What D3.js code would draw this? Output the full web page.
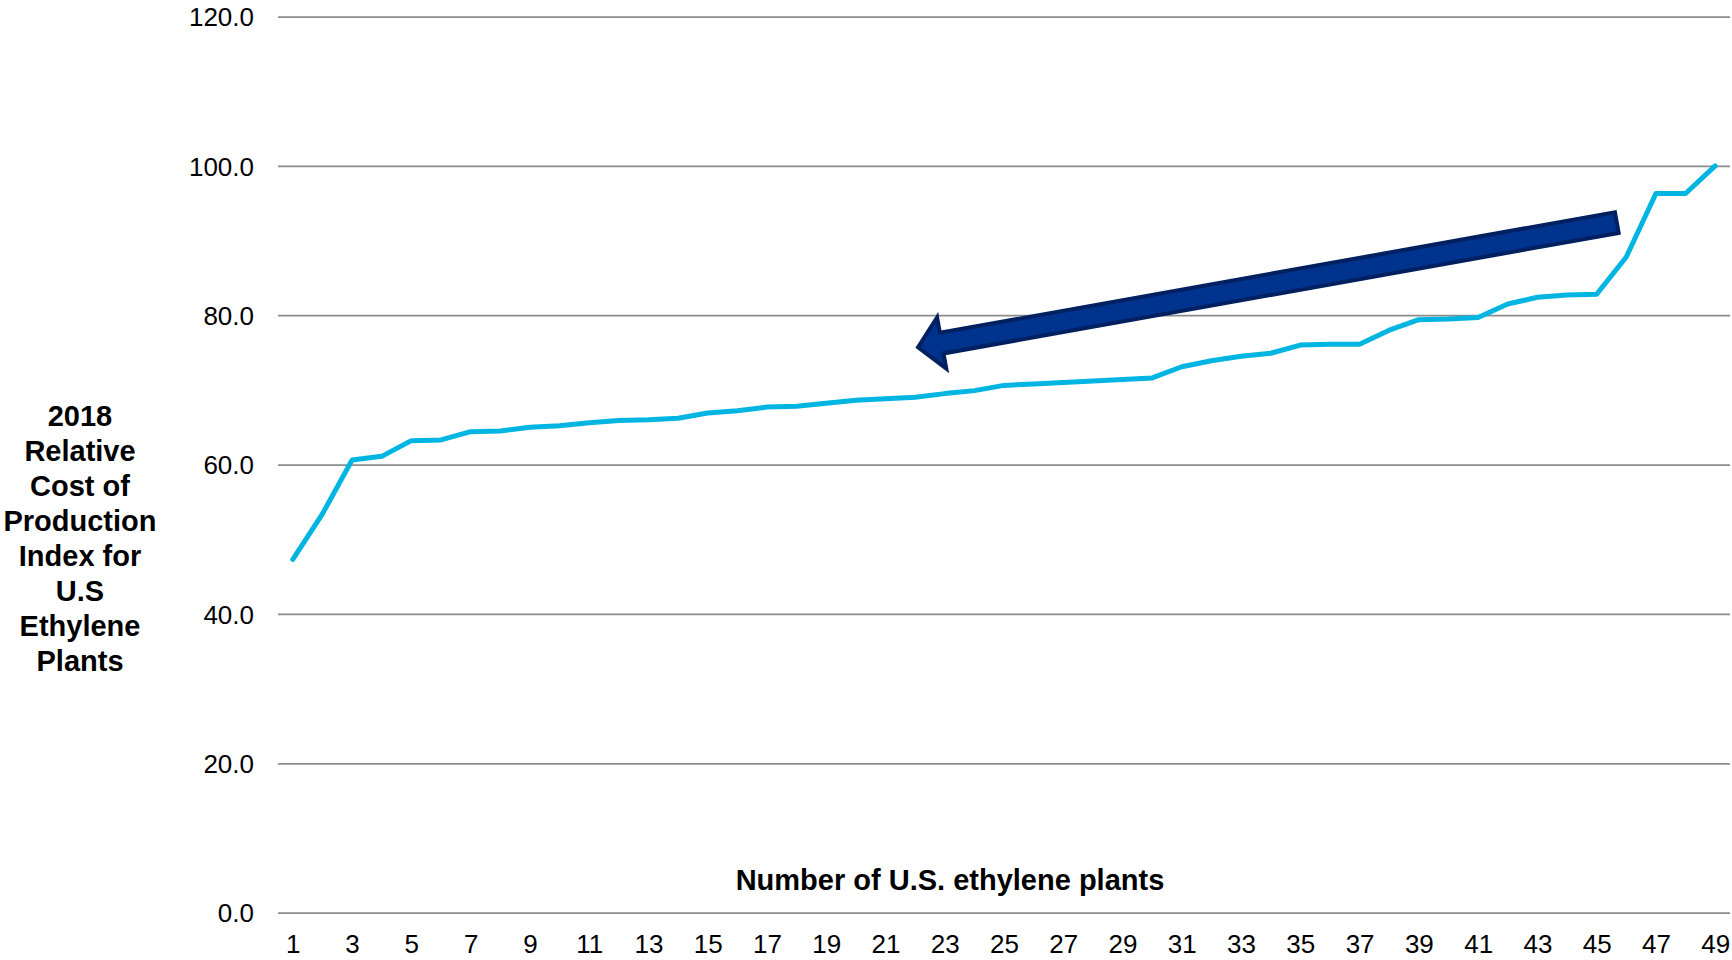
<!DOCTYPE html>
<html>
<head>
<meta charset="utf-8">
<script src="https://cdn.jsdelivr.net/npm/d3@7"></script>
<style>
  html, body { margin: 0; background: #fff; }
  svg { display: block; }
</style>
</head>
<body>
<div id="chart"></div>
<script>
// Data

const plants = [
  1, 2, 3, 4, 5, 6, 7, 8, 9, 10, 11, 12, 13, 14, 15, 16, 17, 18, 19, 20, 21, 22, 23, 24, 25,
  26, 27, 28, 29, 30, 31, 32, 33, 34, 35, 36, 37, 38, 39, 40, 41, 42, 43, 44, 45, 46, 47, 48, 49,
]
const costIndex = [
  47.3, 53.4, 60.6, 61.1, 63.2, 63.3, 64.4, 64.5, 65.0, 65.2, 65.6, 65.9, 66.0, 66.2, 66.9, 67.2,
  67.7, 67.8, 68.2, 68.6, 68.8, 69.0, 69.5, 69.9, 70.6, 70.8, 71.0, 71.2, 71.4, 71.6, 73.1, 73.9,
  74.5, 74.9, 76.0, 76.1, 76.1, 78.0, 79.4, 79.5, 79.7, 81.5, 82.4, 82.7, 82.8, 87.8, 96.3, 96.3, 100.0,
]
const xTickLabels = [1, 3, 5, 7, 9, 11, 13, 15, 17, 19, 21, 23, 25, 27, 29, 31, 33, 35, 37, 39, 41, 43, 45, 47, 49]
const yTickLabels = [0, 20, 40, 60, 80, 100, 120]
const xTitle = 'Number of U.S. ethylene plants'
const yTitleLines = ['2018', 'Relative', 'Cost of', 'Production', 'Index for', 'U.S', 'Ethylene', 'Plants']

// annotation arrow, in data units: [plant, index]
const arrowFrom = [45.68, 92.4]
const arrowTo = [22.1, 75.7]

// Layout

const W = 1732
const H = 960
const FONT = "'Liberation Sans', Arial, sans-serif"
const COLORS = {
  line: '#00b5e2',
  grid: '#8c8c8c',
  arrowFill: '#00338d',
  arrowStroke: '#002060',
  text: '#000',
}

const x = d3.scaleLinear().domain([0.5, 49.5]).range([278, 1730])
const y = d3.scaleLinear().domain([0, 120]).range([912.6, 16.5])

const svg = d3
  .select('#chart')
  .append('svg')
  .attr('width', W)
  .attr('height', H)
  .style('font-family', FONT)

// Y axis & grid

svg
  .append('g')
  .attr('transform', `translate(${x.range()[0]},0)`)
  .call(
    d3
      .axisLeft(y)
      .tickValues(yTickLabels)
      .tickFormat(d3.format('.1f'))
      .tickSize(-(x.range()[1] - x.range()[0]))
      .tickPadding(24),
  )
  .call(g => g.select('.domain').remove())
  .call(g => g.selectAll('line').attr('stroke', COLORS.grid).attr('stroke-width', 1.75))
  .call(g =>
    g
      .selectAll('text')
      .attr('font-family', FONT)
      .attr('font-size', 26)
      .attr('fill', COLORS.text)
      .attr('dy', '0.36em'),
  )

// X axis

svg
  .append('g')
  .attr('transform', `translate(0,${y(0)})`)
  .call(d3.axisBottom(x).tickValues(xTickLabels).tickSize(0).tickPadding(22))
  .call(g => g.select('.domain').remove())
  .call(g =>
    g.selectAll('text').attr('font-family', FONT).attr('font-size', 26).attr('fill', COLORS.text),
  )

// Titles

svg
  .append('text')
  .attr('x', 950)
  .attr('y', 890)
  .attr('text-anchor', 'middle')
  .attr('font-size', 29)
  .attr('font-weight', 'bold')
  .attr('fill', COLORS.text)
  .text(xTitle)

svg
  .append('text')
  .attr('text-anchor', 'middle')
  .attr('font-size', 29)
  .attr('font-weight', 'bold')
  .attr('fill', COLORS.text)
  .selectAll('tspan')
  .data(yTitleLines)
  .join('tspan')
  .attr('x', 80)
  .attr('y', (d, i) => 425.8 + i * 35.05)
  .text(d => d)

// Line

svg
  .append('path')
  .datum(costIndex)
  .attr('fill', 'none')
  .attr('stroke', COLORS.line)
  .attr('stroke-width', 5)
  .attr('stroke-linejoin', 'round')
  .attr('stroke-linecap', 'round')
  .attr(
    'd',
    d3
      .line()
      .x((d, i) => x(plants[i]))
      .y(d => y(d)),
  )

// Arrow

function arrowPath([x0, y0], [x1, y1], { tailHalf, neckHalf, headHalf, headLen }) {
  const len = Math.hypot(x1 - x0, y1 - y0)
  const ux = (x1 - x0) / len
  const uy = (y1 - y0) / len
  const bx = x1 - ux * headLen
  const by = y1 - uy * headLen
  const off = (px, py, s) => [px - uy * s, py + ux * s]
  return (
    d3.line()([
      off(x0, y0, -tailHalf),
      off(bx, by, -neckHalf),
      off(bx, by, -headHalf),
      [x1, y1],
      off(bx, by, headHalf),
      off(bx, by, neckHalf),
      off(x0, y0, tailHalf),
    ]) + 'Z'
  )
}

svg
  .append('path')
  .attr('fill', COLORS.arrowFill)
  .attr('stroke', COLORS.arrowStroke)
  .attr('stroke-width', 4)
  .attr('stroke-linejoin', 'miter')
  .attr(
    'd',
    arrowPath([x(arrowFrom[0]), y(arrowFrom[1])], [x(arrowTo[0]), y(arrowTo[1])], {
      tailHalf: 10.5,
      neckHalf: 10.5,
      headHalf: 26,
      headLen: 24,
    }),
  )
</script>
</body>
</html>
